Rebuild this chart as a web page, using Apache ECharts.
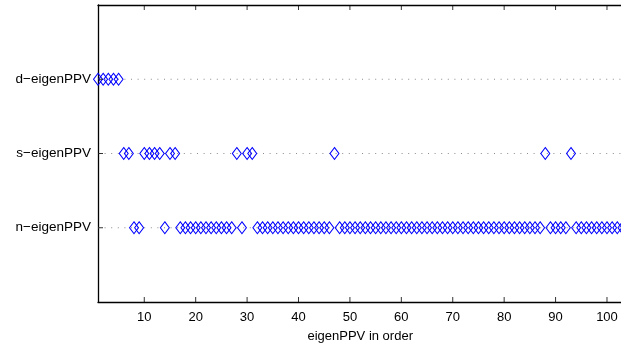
<!DOCTYPE html>
<html>
<head>
<meta charset="utf-8">
<script src="https://cdn.jsdelivr.net/npm/echarts@6/dist/echarts.min.js"></script>
<style>html,body{margin:0;padding:0;background:#fff;}#c{width:621px;height:347px;}</style>
</head>
<body>
<div id="c"></div>
<script>
const yCategories = ['n\u2212eigenPPV', 's\u2212eigenPPV', 'd\u2212eigenPPV'];
const yTicks = [1, 2, 3];
const xTicks = [10, 20, 30, 40, 50, 60, 70, 80, 90, 100];
const dX = [1, 2, 3, 4, 5];
const sX = [6, 7, 10, 11, 12, 13, 15, 16, 28, 30, 31, 47, 88, 93];
const nX = [8, 9, 14, 17, 18, 19, 20, 21, 22, 23, 24, 25, 26, 27, 29,
  32, 33, 34, 35, 36, 37, 38, 39, 40, 41, 42, 43, 44, 45, 46,
  48, 49, 50, 51, 52, 53, 54, 55, 56, 57, 58, 59, 60, 61, 62, 63, 64, 65, 66, 67,
  68, 69, 70, 71, 72, 73, 74, 75, 76, 77, 78, 79, 80, 81, 82, 83, 84, 85, 86, 87,
  89, 90, 91, 92, 94, 95, 96, 97, 98, 99, 100, 101, 102, 103];
const xMin = 1, xMax = 103, yMin = 0, yMax = 4;

const font = 'Liberation Sans, Arial, Helvetica, sans-serif';
const chart = echarts.init(document.getElementById('c'), null, {renderer: 'canvas'});

function rowLine(y) {
  return {
    type: 'line', data: [[xMin, y], [xMax, y]], symbol: 'none', silent: true, z: 1,
    lineStyle: {color: '#8c8c8c', width: 1, type: [1, 5.6]}
  };
}
function rowScatter(xs, y) {
  return {
    type: 'scatter', data: xs.map(x => [x, y]), symbol: 'diamond', symbolSize: [9, 12], z: 3,
    itemStyle: {color: 'rgba(0,0,0,0)', borderColor: '#0000ff', borderWidth: 1, opacity: 1}
  };
}
function tickSeries(data, size, offset) {
  return {
    type: 'scatter', data: data, symbol: 'rect', symbolSize: size, symbolOffset: offset,
    silent: true, clip: false, z: 5, itemStyle: {color: '#000'}
  };
}

const axLine = {show: true, onZero: false, lineStyle: {color: '#000', width: 1.3}};

chart.setOption({
  animation: false,
  grid: {left: 98, top: 5, width: 524.4, bottom: 45, containLabel: false, outerBoundsMode: 'none'},
  xAxis: [{
    type: 'value', min: xMin, max: xMax, position: 'bottom',
    axisLine: axLine,
    axisTick: {show: false},
    axisLabel: {show: true, customValues: xTicks, color: '#000', fontSize: 13, fontFamily: font, margin: 9},
    splitLine: {show: false},
    name: 'eigenPPV in order', nameLocation: 'middle', nameGap: 28,
    nameTextStyle: {color: '#000', fontSize: 13, fontFamily: font}
  }, {
    type: 'value', min: xMin, max: xMax, position: 'top',
    axisLine: axLine,
    axisTick: {show: false},
    axisLabel: {show: false}, splitLine: {show: false}
  }],
  yAxis: [{
    type: 'value', min: yMin, max: yMax, position: 'left',
    axisLine: axLine,
    axisTick: {show: false},
    axisLabel: {show: true, customValues: yTicks, formatter: v => yCategories[v - 1], color: '#000', fontSize: 13.5, fontFamily: font, margin: 7},
    splitLine: {show: false}
  }],
  series: [
    rowLine(1), rowLine(2), rowLine(3),
    rowScatter(nX, 1), rowScatter(sX, 2), rowScatter(dX, 3),
    tickSeries(xTicks.map(x => [x, yMin]), [1, 5], [0, -2.5]),
    tickSeries(xTicks.map(x => [x, yMax]), [1, 5], [0, 2.5]),
    tickSeries(yTicks.map(y => [xMin, y]), [5, 1], [2.5, 0])
  ]
});
</script>
</body>
</html>
